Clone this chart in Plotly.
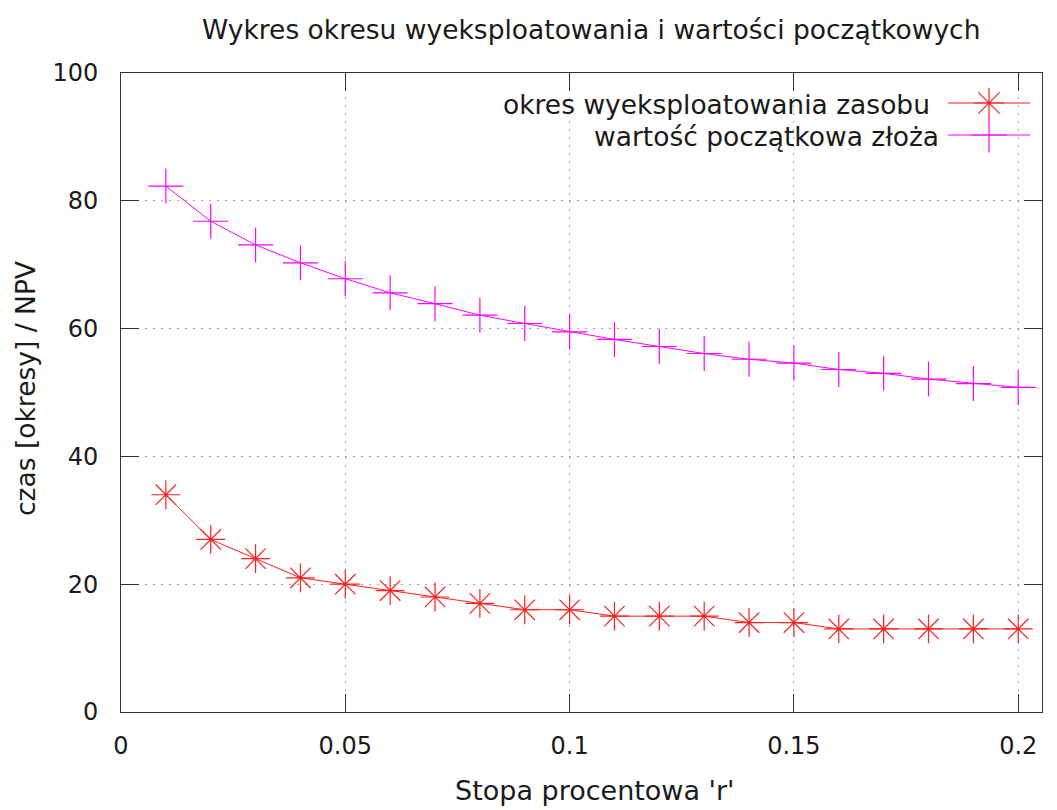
import plotly.graph_objects as go

r_values = [0.01, 0.02, 0.03, 0.04, 0.05, 0.06, 0.07, 0.08, 0.09, 0.10,
            0.11, 0.12, 0.13, 0.14, 0.15, 0.16, 0.17, 0.18, 0.19, 0.20]
okres = [34, 27, 24, 21, 20, 19, 18, 17, 16, 16,
         15, 15, 15, 14, 14, 13, 13, 13, 13, 13]
wartosc = [82.3, 76.8, 73.1, 70.3, 67.8, 65.6, 63.9, 62.1, 60.8, 59.5,
           58.3, 57.2, 56.1, 55.2, 54.6, 53.6, 53.0, 52.1, 51.4, 50.8]

series_names = ["okres wyeksploatowania zasobu", "wartość początkowa złoża"]
title_text = "Wykres okresu wyeksploatowania i wartości początkowych"
x_title = "Stopa procentowa 'r'"
y_title = "czas [okresy] / NPV"
x_ticks = [0, 0.05, 0.1, 0.15, 0.2]
x_ticktext = ["0", "0.05", "0.1", "0.15", "0.2"]
y_ticks = [0, 20, 40, 60, 80, 100]

RED = "rgb(255,30,30)"
MAG = "rgb(255,0,255)"
TXT = "#1a1a1a"
FONT = "DejaVu Sans"

# page offset (body margin) and figure size
OFF = 8
W, H = 1057 - OFF, 810 - OFF
# plot area in screen pixels
PX0, PX1, PY0, PY1 = 121, 1042, 73, 712
L, R, T, B = PX0 - OFF, W - (PX1 - OFF), PY0 - OFF, H - (PY1 - OFF)


def paper_x(sx):
    return (sx - PX0) / (PX1 - PX0)


def paper_y(sy):
    return (PY1 - sy) / (PY1 - PY0)


fig = go.Figure()
fig.add_trace(go.Scatter(
    x=r_values, y=okres, mode="lines+markers", name=series_names[0],
    line=dict(color=RED, width=1),
    marker=dict(symbol="asterisk-open", size=24, color=RED, line=dict(color=RED, width=1.2)),
    showlegend=False))
fig.add_trace(go.Scatter(
    x=r_values, y=wartosc, mode="lines+markers", name=series_names[1],
    line=dict(color=MAG, width=1),
    marker=dict(symbol="cross-thin-open", size=25, color=MAG, line=dict(color=MAG, width=1.2)),
    showlegend=False))

# custom key (text left, sample right) on a screen-pixel overlay axis
key_rows = [(103, 716, RED, "asterisk-open", series_names[0]),
            (135, 766, MAG, "cross-thin-open", series_names[1])]
for yy, xc, col, sym, name in key_rows:
    fig.add_trace(go.Scatter(
        x=[948, 1030], y=[yy, yy], xaxis="x2", yaxis="y2", mode="lines",
        line=dict(color=col, width=1), showlegend=False, hoverinfo="skip"))
    fig.add_trace(go.Scatter(
        x=[989], y=[yy], xaxis="x2", yaxis="y2", mode="markers",
        marker=dict(symbol=sym, size=25, color=col, line=dict(color=col, width=1.2)),
        showlegend=False, hoverinfo="skip"))
    fig.add_annotation(x=xc, y=yy + 1, xref="x2", yref="y2", text=name,
                       showarrow=False, xanchor="center", yanchor="middle",
                       font=dict(family=FONT, size=26.5, color=TXT))

axis_common = dict(
    showline=True, linecolor="#333", linewidth=1, mirror="ticks",
    ticks="inside", ticklen=18, tickcolor="#333", tickwidth=1,
    showgrid=True, gridcolor="#a8a8a8", griddash="2px,6px", gridwidth=1,
    zeroline=False, tickfont=dict(family=FONT, size=24, color=TXT),
)

fig.update_layout(
    width=W, height=H,
    margin=dict(l=L, r=R, t=T, b=B, autoexpand=False),
    paper_bgcolor="white", plot_bgcolor="white",
    xaxis=dict(range=[0, 0.2053], tickvals=x_ticks, ticktext=x_ticktext,
               ticklabelstandoff=12, **axis_common),
    yaxis=dict(range=[0, 100], tickvals=y_ticks, ticklabelstandoff=17,
               **axis_common),
    xaxis2=dict(overlaying="x", range=[PX0, PX1], visible=False, anchor="y2"),
    yaxis2=dict(overlaying="y", range=[PY1, PY0], visible=False, anchor="x2"),
)

fig.add_annotation(x=paper_x(591), y=paper_y(30), xref="paper", yref="paper",
                   text=title_text, showarrow=False, xanchor="center", yanchor="middle",
                   font=dict(family=FONT, size=26.5, color=TXT))
fig.add_annotation(x=paper_x(595), y=paper_y(790), xref="paper", yref="paper",
                   text=x_title, showarrow=False, xanchor="center", yanchor="middle",
                   font=dict(family=FONT, size=27, color=TXT))
fig.add_annotation(x=paper_x(25), y=paper_y(389), xref="paper", yref="paper",
                   text=y_title, showarrow=False, textangle=-90,
                   xanchor="center", yanchor="middle",
                   font=dict(family=FONT, size=26.5, color=TXT))

fig.write_html("out.html")
